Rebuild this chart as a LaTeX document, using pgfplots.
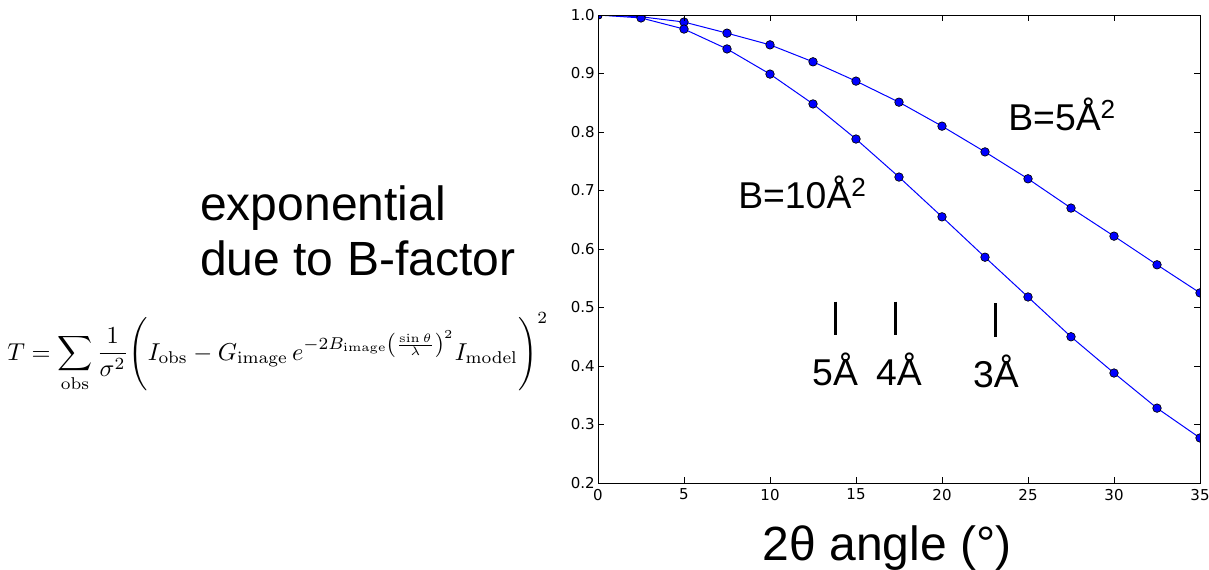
\documentclass[border=0pt]{standalone}
\usepackage[no-math]{fontspec}
\usepackage{amsmath}
\usepackage{graphicx}
\usepackage{pgfplots}
\pgfplotsset{compat=1.18}
\setmainfont{Liberation Sans}
\newfontfamily\dejavu{DejaVu Sans}

\begin{document}
\begin{tikzpicture}
\begin{axis}[
  at={(448.5pt,64.5pt)}, anchor=south west,
  scale only axis, width=451.5pt, height=351pt,
  xmin=0, xmax=35, ymin=0.2, ymax=1.0,
  xtick={0,5,...,35},
  ytick={0.2,0.3,...,1.0},
  tick align=inside,
  major tick length=4.5pt,
  tick style={black, line width=0.75pt},
  axis line style={black, line width=0.75pt},
  axis on top,
  clip marker paths=true,
  /pgf/number format/assume math mode=true,
  tick label style={font=\dejavu\fontsize{11.25}{13}\selectfont},
  yticklabel style={/pgf/number format/fixed, /pgf/number format/fixed zerofill, /pgf/number format/precision=1, xshift=1pt},
  xticklabel style={yshift=-1pt},
]
\addplot[blue, line width=0.75pt, mark=*, mark size=3.2pt, mark options={fill=blue, draw=black, line width=0.5pt}] coordinates {
 (0,1.0) (2.5,0.997) (5,0.988) (7.5,0.969) (10,0.949) (12.5,0.920) (15,0.887)
 (17.5,0.851) (20,0.810) (22.5,0.766) (25,0.720) (27.5,0.670) (30,0.622)
 (32.5,0.573) (35,0.525)};
\addplot[blue, line width=0.75pt, mark=*, mark size=3.2pt, mark options={fill=blue, draw=black, line width=0.5pt}] coordinates {
 (0,1.0) (2.5,0.995) (5,0.976) (7.5,0.942) (10,0.899) (12.5,0.848) (15,0.788)
 (17.5,0.723) (20,0.655) (22.5,0.586) (25,0.518) (27.5,0.450) (30,0.388)
 (32.5,0.328) (35,0.277)};
\node[anchor=base west, inner sep=0, font=\fontsize{28}{32}\selectfont] at (axis cs:23.84,0.802) {B=5Å\textsuperscript{2}};
\node[anchor=base west, inner sep=0, font=\fontsize{28}{32}\selectfont] at (axis cs:8.14,0.670) {B=10Å\textsuperscript{2}};
\draw[black, line width=2pt] (axis cs:13.82,0.510) -- (axis cs:13.82,0.453);
\draw[black, line width=2pt] (axis cs:17.31,0.510) -- (axis cs:17.31,0.453);
\draw[black, line width=2pt] (axis cs:23.12,0.507) -- (axis cs:23.12,0.450);
\node[anchor=base west, inner sep=0, font=\fontsize{28}{32}\selectfont] at (axis cs:12.44,0.3675) {5Å};
\node[anchor=base west, inner sep=0, font=\fontsize{28}{32}\selectfont] at (axis cs:16.16,0.3675) {4Å};
\node[anchor=base west, inner sep=0, font=\fontsize{28}{32}\selectfont] at (axis cs:21.8,0.364) {3Å};
\end{axis}
\node[anchor=base, inner sep=0, font=\fontsize{36}{40}\selectfont] at (665.25pt,6.75pt) {2θ angle (°)};
\node[anchor=base west, inner sep=0, font=\fontsize{36}{40}\selectfont] at (150pt,261.75pt) {exponential};
\node[anchor=base west, inner sep=0, font=\fontsize{36}{40}\selectfont] at (150pt,220.5pt) {due to B-factor};
\node[anchor=base west, inner sep=0] at (5.25pt,156.75pt) {\resizebox{405.75pt}{!}{$\displaystyle T=\sum_{\mathrm{obs}}\frac{1}{\sigma^2}\Bigg(I_{\mathrm{obs}}-G_{\mathrm{image}}\,e^{-2B_{\mathrm{image}}\left(\frac{\sin\theta}{\lambda}\right)^2} I_{\mathrm{model}}\Bigg)^2$}};
\pgfresetboundingbox
\useasboundingbox (0,0) rectangle (906.75pt,426.75pt);
\end{tikzpicture}
\end{document}
